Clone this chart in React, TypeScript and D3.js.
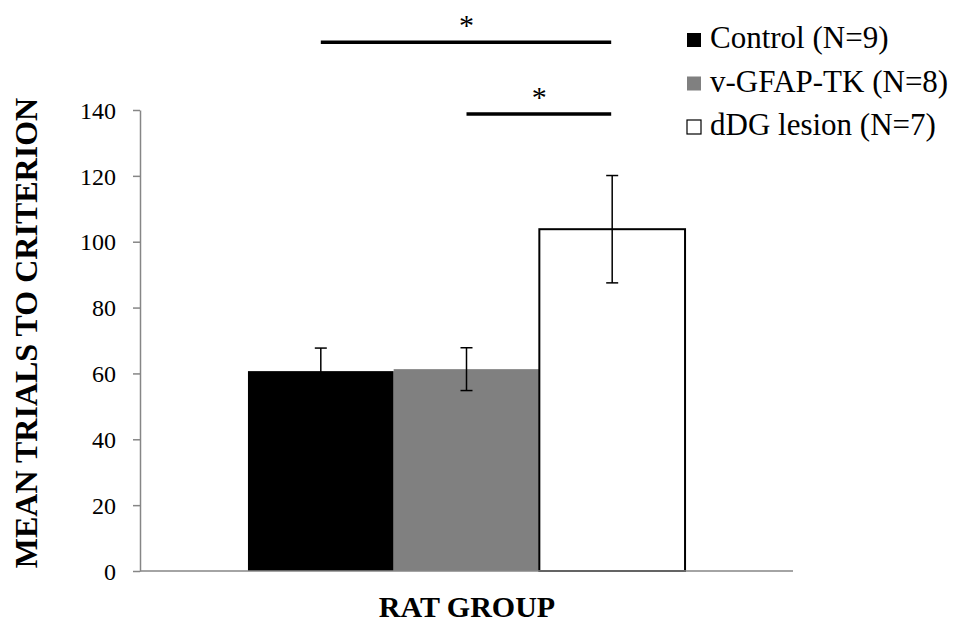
import React, { useEffect, useRef } from "react";
import * as d3 from "d3";

// chart values
const groups = ["Control (N=9)", "v-GFAP-TK (N=8)", "dDG lesion (N=7)"];
const means = [60.7, 61.3, 103.8];
const errLow = [53.7, 54.8, 87.5];
const errHigh = [67.7, 67.8, 120.1];
const fills = ["#000000", "#808080", "#ffffff"];
const yTicks = [0, 20, 40, 60, 80, 100, 120, 140];
// significance brackets: from group index, to group index, level
const sigFrom = [0, 1];
const sigTo = [2, 2];
const sigLevel = [160.6, 138.8];

const App = () => {
  const ref = useRef<SVGSVGElement>(null);

  useEffect(() => {
    document.body.style.margin = "0";
    const width = 961;
    const height = 622;
    const left = 140;
    const right = 793;
    const top = 110;
    const bottom = 571;
    const font = "'Liberation Serif', 'Times New Roman', Times, serif";

    const svg = d3.select(ref.current);
    svg.selectAll("*").remove();
    svg.style("font-family", font);

    const x = d3
      .scaleBand()
      .domain(groups)
      .range([left, right])
      .paddingInner(0)
      .paddingOuter(0.741);

    const y = d3.scaleLinear().domain([0, 140]).range([bottom, top]);

    // y axis
    const yAxis = svg.append("g").attr("transform", `translate(${left},0)`);
    yAxis.call(
      d3.axisLeft(y).tickValues(yTicks).tickSize(7).tickPadding(17).tickSizeOuter(0)
    );
    yAxis.attr("font-family", null).attr("font-size", null);
    yAxis.select(".domain").attr("stroke", "#868686").attr("stroke-width", 1.5);
    yAxis.selectAll(".tick line").attr("stroke", "#868686").attr("stroke-width", 1.5);
    yAxis
      .selectAll(".tick text")
      .style("font-family", font)
      .style("font-size", "24px")
      .attr("fill", "#000")
      .attr("dy", "0.34em");

    // bars
    svg
      .append("g")
      .selectAll("rect")
      .data(groups)
      .join("rect")
      .attr("x", (d) => x(d)!)
      .attr("width", x.bandwidth())
      .attr("y", (d, i) => y(means[i]))
      .attr("height", (d, i) => y(0) - y(means[i]))
      .attr("fill", (d, i) => fills[i])
      .attr("stroke", (d, i) => (i === 2 ? "#000" : "none"))
      .attr("stroke-width", 2);

    // x axis line
    svg
      .append("line")
      .attr("x1", left)
      .attr("x2", right)
      .attr("y1", y(0))
      .attr("y2", y(0))
      .attr("stroke", "#868686")
      .attr("stroke-width", 1.5);

    // error bars
    const eb = svg
      .append("g")
      .attr("stroke", "#000")
      .attr("stroke-width", 1.5)
      .selectAll("g")
      .data(groups)
      .join("g")
      .attr("transform", (d) => `translate(${x(d)! + x.bandwidth() / 2},0)`);
    eb.append("line")
      .attr("y1", (d, i) => y(errLow[i]))
      .attr("y2", (d, i) => y(errHigh[i]));
    eb.append("line")
      .attr("x1", -6)
      .attr("x2", 6)
      .attr("y1", (d, i) => y(errHigh[i]))
      .attr("y2", (d, i) => y(errHigh[i]));
    eb.append("line")
      .attr("x1", -6)
      .attr("x2", 6)
      .attr("y1", (d, i) => y(errLow[i]))
      .attr("y2", (d, i) => y(errLow[i]));

    // significance lines
    const mid = (i: number) => x(groups[i])! + x.bandwidth() / 2;
    sigLevel.forEach((lv, k) => {
      svg
        .append("line")
        .attr("x1", mid(sigFrom[k]))
        .attr("x2", mid(sigTo[k]) - 1)
        .attr("y1", y(lv))
        .attr("y2", y(lv))
        .attr("stroke", "#000")
        .attr("stroke-width", 3.5);
      svg
        .append("text")
        .attr("x", (mid(sigFrom[k]) + mid(sigTo[k])) / 2)
        .attr("y", y(lv) - 7)
        .attr("text-anchor", "middle")
        .style("font-size", "30px")
        .text("*");
    });

    // legend
    const lg = svg
      .append("g")
      .selectAll("g")
      .data(groups)
      .join("g")
      .attr("transform", (d, i) => `translate(686,${48 + i * 43.5})`);
    lg.append("rect")
      .attr("x", 1)
      .attr("y", -15)
      .attr("width", 14)
      .attr("height", 14)
      .attr("fill", (d, i) => fills[i])
      .attr("stroke", (d, i) => (i === 2 ? "#000" : "none"))
      .attr("stroke-width", 1.2);
    lg.append("text")
      .attr("x", 24)
      .attr("y", 0)
      .style("font-size", "31px")
      .text((d) => d);

    // axis titles
    svg
      .append("text")
      .attr("transform", `translate(37,333) rotate(-90)`)
      .attr("text-anchor", "middle")
      .style("font-weight", "bold")
      .style("font-size", "32px")
      .text("MEAN TRIALS TO CRITERION");
    svg
      .append("text")
      .attr("x", 467)
      .attr("y", 617)
      .attr("text-anchor", "middle")
      .style("font-weight", "bold")
      .style("font-size", "30px")
      .text("RAT GROUP");

    svg.attr("width", width).attr("height", height);
  }, []);

  return <svg ref={ref} width={961} height={622} style={{ display: "block", background: "#fff" }} />;
};

export default App;
